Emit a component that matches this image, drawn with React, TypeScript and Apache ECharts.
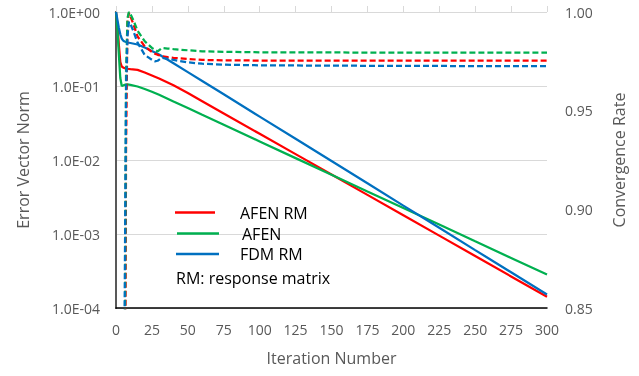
import React, { useEffect, useRef } from "react";
import * as echarts from "echarts";

// Solid lines (left, log axis): error vector norm
const iterations = [0, 1, 2, 3, 4, 5, 6, 8, 10, 15, 20, 25, 30, 40, 50, 60, 75, 100, 125, 150, 175, 200, 225, 250, 275, 300];
const afenRmNorm = [1.0, 0.667, 0.358, 0.211, 0.183, 0.178, 0.174, 0.171, 0.169, 0.165, 0.152, 0.1386, 0.1263, 0.1022, 0.0804, 0.0623, 0.0426, 0.0226, 0.012, 0.00637, 0.00338, 0.00179, 0.000951, 0.000504, 0.000267, 0.000142];
const afenNorm = [1.0, 0.571, 0.262, 0.128, 0.1, 0.1016, 0.1038, 0.1048, 0.1038, 0.0985, 0.0911, 0.0838, 0.0761, 0.0617, 0.0503, 0.0408, 0.0299, 0.0178, 0.0106, 0.00632, 0.00376, 0.00225, 0.00134, 0.000796, 0.000474, 0.000283];
const fdmRmNorm = [1.0, 0.78, 0.608, 0.5, 0.438, 0.41, 0.399, 0.387, 0.381, 0.364, 0.331, 0.297, 0.267, 0.203, 0.154, 0.117, 0.0772, 0.0386, 0.01934, 0.00967, 0.00484, 0.00242, 0.001213, 0.000606, 0.000304, 0.000152];

// Dashed lines (right axis): convergence rate
const rateIterations = [5, 6, 7, 8, 9, 10, 12, 15, 20, 25, 27, 29, 32, 36, 40, 50, 60, 75, 100, 150, 200, 250, 300];
const afenRmRate = [0.5, 0.7, 0.93, 0.995, 0.9995, 0.998, 0.994, 0.9876, 0.9826, 0.9797, 0.9789, 0.9783, 0.9776, 0.9771, 0.9768, 0.9762, 0.9757, 0.9755, 0.9754, 0.9754, 0.9754, 0.9754, 0.9754];
const afenRate = [0.5, 0.8, 0.97, 0.997, 1.0, 0.999, 0.996, 0.9905, 0.9852, 0.9818, 0.9809, 0.98, 0.9818, 0.9815, 0.9812, 0.9806, 0.9801, 0.9798, 0.9796, 0.9795, 0.9794, 0.9794, 0.9794];
const fdmRmRate = [0.6, 0.85, 0.96, 0.988, 0.995, 0.994, 0.9905, 0.9845, 0.9782, 0.9758, 0.975, 0.9753, 0.9768, 0.9763, 0.9757, 0.9745, 0.9738, 0.9733, 0.973, 0.9728, 0.9727, 0.9726, 0.9726];

const leftTickLabels = ["1.0E-04", "1.0E-03", "1.0E-02", "1.0E-01", "1.0E+00"];
const rightTickLabels = ["0.85", "0.90", "0.95", "1.00"];
const legendNames = ["AFEN RM", "AFEN", "FDM RM"];
const legendNote = "RM: response matrix";

const RED = "#FF0000";
const GREEN = "#00B050";
const BLUE = "#0070C0";
const GREY = "#595959";
const FONT = "Open Sans";

function pairs(xs: number[], ys: number[]) {
  return xs.map((x, i) => [x, ys[i]]);
}

export default function App() {
  const ref = useRef<HTMLDivElement>(null);
  useEffect(() => {
    const chart = echarts.init(ref.current!, null, { renderer: "svg" });
    const solid = (name: string, color: string, ys: number[]) => ({
      name,
      type: "line",
      xAxisIndex: 0,
      yAxisIndex: 0,
      data: pairs(iterations, ys),
      showSymbol: false,
      symbol: "none",
      lineStyle: { color, width: 2.25 },
      clip: true,
    });
    const dashed = (name: string, color: string, ys: number[]) => ({
      name,
      type: "line",
      xAxisIndex: 0,
      yAxisIndex: 1,
      data: pairs(rateIterations, ys),
      showSymbol: false,
      symbol: "none",
      lineStyle: { color, width: 2.25, type: [6, 3] },
      clip: true,
    });
    const legendY = [212.5, 233.5, 254];
    const legendColors = [RED, GREEN, BLUE];
    const legendLineX = [[175, 215], [177, 219], [176, 219]];
    const legendTextX = [240, 242, 240];
    const graphics: any[] = [];
    legendNames.forEach((n, i) => {
      graphics.push({
        type: "line",
        shape: { x1: legendLineX[i][0], y1: legendY[i], x2: legendLineX[i][1], y2: legendY[i] },
        style: { stroke: legendColors[i], lineWidth: 2.5 },
        z: 100,
      });
      graphics.push({
        type: "text",
        x: legendTextX[i],
        y: legendY[i],
        style: { text: n, fill: "#000", font: `16px "${FONT}"`, align: "left", verticalAlign: "middle" },
        z: 100,
      });
    });
    graphics.push({
      type: "text",
      x: 176,
      y: 278,
      style: { text: legendNote, fill: "#000", font: `16px "${FONT}"`, align: "left", verticalAlign: "middle" },
      z: 100,
    });

    chart.setOption({
      animation: false,
      textStyle: { fontFamily: FONT },
      grid: { left: 116, right: 92, top: 12, bottom: 68, containLabel: false },
      xAxis: [
        {
          type: "value",
          min: 0,
          max: 300,
          interval: 25,
          position: "bottom",
          name: "Iteration Number",
          nameLocation: "middle",
          nameGap: 42,
          nameTextStyle: { color: GREY, fontSize: 16, fontFamily: FONT },
          axisLine: { show: true, onZero: false, lineStyle: { color: "#000", width: 1.5 } },
          axisTick: { show: false },
          axisLabel: { color: GREY, fontSize: 14, margin: 14, fontFamily: FONT },
          splitLine: { show: false },
        },
        {
          type: "value",
          min: 0,
          max: 300,
          interval: 25,
          position: "top",
          axisLine: { show: false },
          axisTick: { show: true, length: 6, lineStyle: { color: "#d9d9d9", width: 1 } },
          axisLabel: { show: false },
          splitLine: { show: false },
        },
      ],
      yAxis: [
        {
          type: "log",
          logBase: 10,
          min: 0.0001,
          max: 1,
          position: "left",
          name: "Error Vector Norm",
          nameLocation: "middle",
          nameRotate: 90,
          nameGap: 85,
          nameTextStyle: { color: GREY, fontSize: 16, fontFamily: FONT },
          axisLine: { show: true, lineStyle: { color: "#000", width: 1.5 } },
          axisTick: { show: false },
          axisLabel: {
            color: GREY,
            fontSize: 14,
            margin: 16,
            fontFamily: FONT,
            formatter: (v: number) => {
              const e = Math.round(Math.log10(v));
              return leftTickLabels[e + 4] ?? "";
            },
          },
          splitLine: { show: true, lineStyle: { color: "#d9d9d9", width: 1 } },
        },
        {
          type: "value",
          min: 0.85,
          max: 1.0,
          interval: 0.05,
          position: "right",
          name: "Convergence Rate",
          nameLocation: "middle",
          nameRotate: 90,
          nameGap: 64,
          nameTextStyle: { color: GREY, fontSize: 16, fontFamily: FONT },
          axisLine: { show: true, lineStyle: { color: GREY, width: 2 } },
          axisTick: { show: false },
          axisLabel: {
            color: GREY,
            fontSize: 14,
            margin: 18,
            fontFamily: FONT,
            formatter: (v: number) => {
              const idx = Math.round((v - 0.85) / 0.05);
              return rightTickLabels[idx] ?? "";
            },
          },
          splitLine: { show: false },
        },
      ],
      series: [
        solid("AFEN RM", RED, afenRmNorm),
        solid("AFEN", GREEN, afenNorm),
        solid("FDM RM", BLUE, fdmRmNorm),
        dashed("AFEN RM rate", RED, afenRmRate),
        dashed("AFEN rate", GREEN, afenRate),
        dashed("FDM RM rate", BLUE, fdmRmRate),
      ],
      graphic: graphics,
    });
    return () => chart.dispose();
  }, []);
  return <div ref={ref} style={{ position: "fixed", left: 0, top: 0, width: 639, height: 376 }} />;
}
